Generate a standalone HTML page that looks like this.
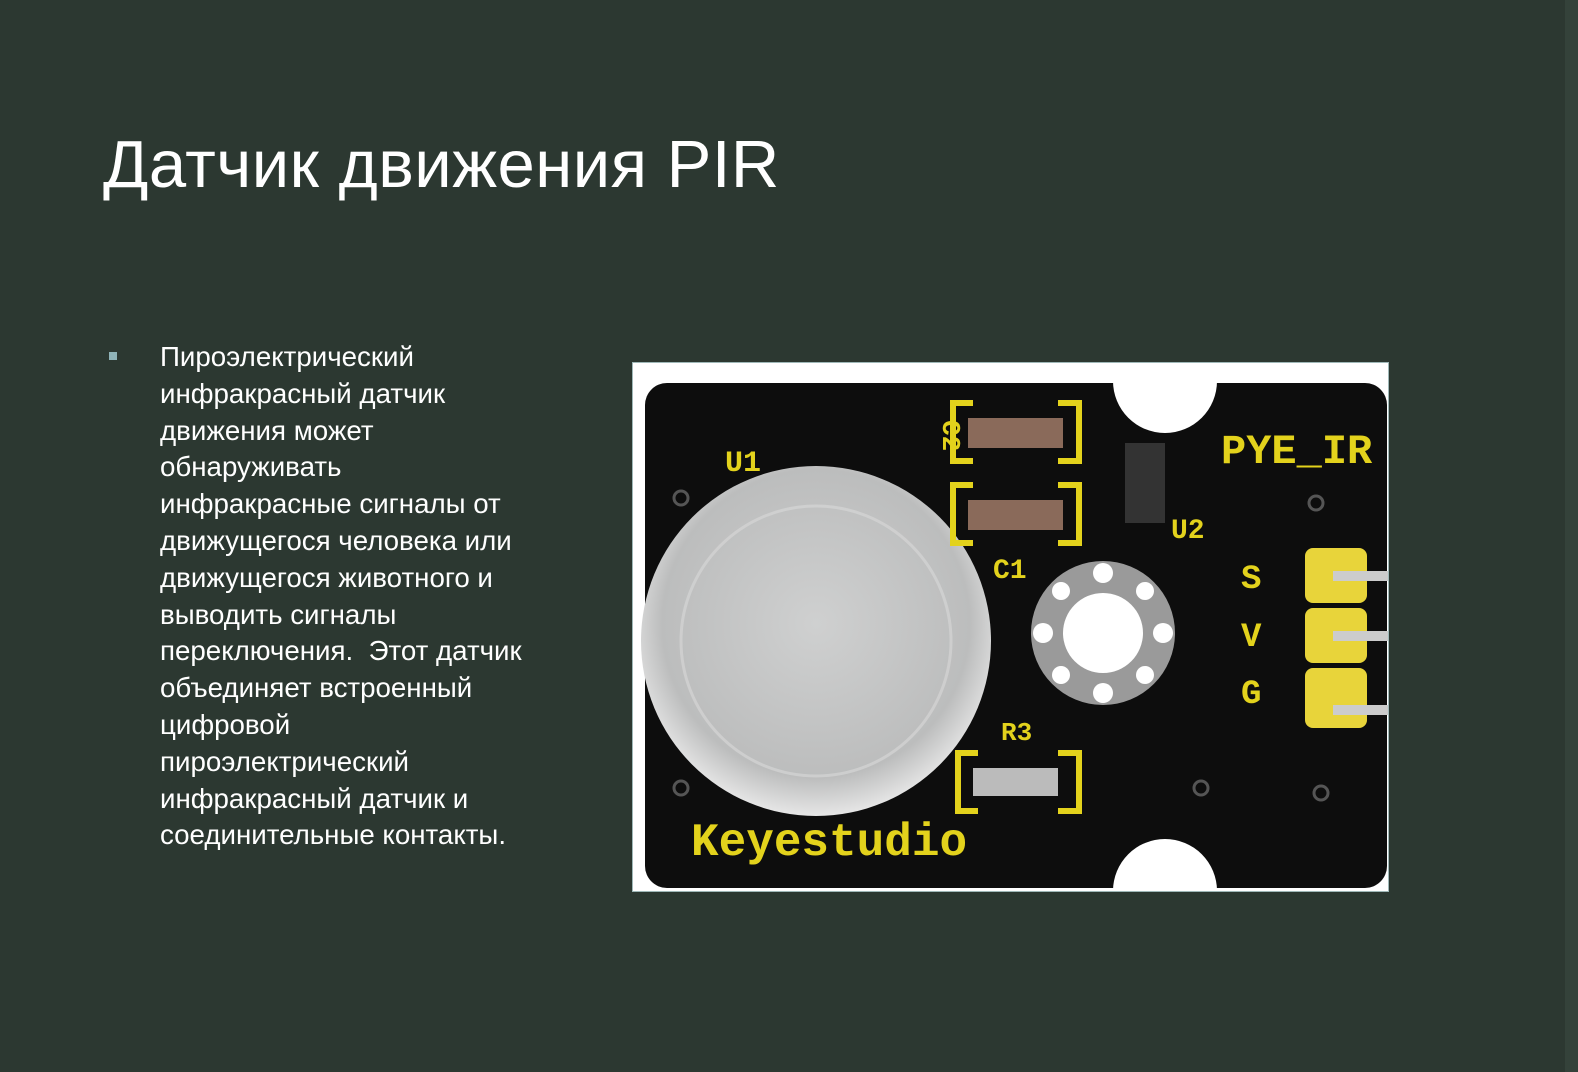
<!DOCTYPE html>
<html><head><meta charset="utf-8"><style>
html,body{margin:0;padding:0;}
body{width:1578px;height:1072px;background:#2c3831;position:relative;overflow:hidden;font-family:"Liberation Sans","Noto Sans CJK SC",sans-serif;}
#title{position:absolute;left:103px;top:126px;font-size:67px;color:#fff;margin:0;font-weight:normal;letter-spacing:0.5px;}
#bullet{position:absolute;left:109px;top:352px;width:8px;height:8px;background:#8fb3b8;}
#body{position:absolute;left:160px;top:339px;width:420px;font-size:27.7px;line-height:36.8px;color:#fff;white-space:nowrap;}
#pic{position:absolute;left:632px;top:362px;width:755px;height:528px;border:1px solid #9fb8b8;background:#fff;}
#edge{position:absolute;left:1565px;top:0;width:13px;height:1072px;background:#34423a;}
</style></head><body>
<div id="edge"></div>
<h1 id="title">Датчик движения PIR</h1>
<div id="bullet"></div>
<div id="body">Пироэлектрический<br>инфракрасный датчик<br>движения может<br>обнаруживать<br>инфракрасные сигналы от<br>движущегося человека или<br>движущегося животного и<br>выводить сигналы<br>переключения.&nbsp; Этот датчик<br>объединяет встроенный<br>цифровой<br>пироэлектрический<br>инфракрасный датчик и<br>соединительные контакты.</div>
<div id="pic">
<svg width="755" height="528" viewBox="0 0 755 528">
<defs><radialGradient id="dome" cx="50%" cy="45%" r="55%"><stop offset="0" stop-color="#cfd0d0"/><stop offset="0.8" stop-color="#bcbdbd"/><stop offset="1" stop-color="#e6e6e6"/></radialGradient></defs>
<rect x="12" y="20" width="742" height="505" rx="22" fill="#0d0d0d"/>
<circle cx="532" cy="18" r="52" fill="#fff"/>
<circle cx="532" cy="528" r="52" fill="#fff"/>
<circle cx="183" cy="278" r="175" fill="url(#dome)"/>
<circle cx="183" cy="278" r="135" fill="none" stroke="#d8d8d8" stroke-width="3" opacity="0.6"/>
<circle cx="470" cy="270" r="72" fill="#9a9a9a"/>
<circle cx="470" cy="270" r="40" fill="#fff"/>
<g fill="#fff"><circle cx="470" cy="210" r="10"/><circle cx="470" cy="330" r="10"/><circle cx="410" cy="270" r="10"/><circle cx="530" cy="270" r="10"/><circle cx="428" cy="228" r="9"/><circle cx="512" cy="228" r="9"/><circle cx="428" cy="312" r="9"/><circle cx="512" cy="312" r="9"/></g>
<g fill="none" stroke="#e3d21c" stroke-width="6">
<path d="M340 40 H320 V98 H340 M425 40 H446 V98 H425"/>
<path d="M340 122 H320 V180 H340 M425 122 H446 V180 H425"/>
<path d="M345 390 H325 V448 H345 M425 390 H446 V448 H425"/>
</g>
<rect x="335" y="55" width="95" height="30" fill="#8a6a5a"/><rect x="335" y="137" width="95" height="30" fill="#8a6a5a"/>
<rect x="340" y="405" width="85" height="28" fill="#bbb"/>
<rect x="492" y="80" width="40" height="80" fill="#333"/>
<g fill="#e3d21c" font-family="Liberation Mono, monospace" font-weight="bold">
<text x="92" y="108" font-size="30">U1</text>
<text x="360" y="215" font-size="28">C1</text>
<text x="538" y="175" font-size="28">U2</text>
<text x="368" y="377" font-size="26">R3</text>
<text x="588" y="100" font-size="42">PYE_IR</text>
<text x="608" y="225" font-size="34">S</text><text x="608" y="283" font-size="34">V</text><text x="608" y="340" font-size="34">G</text>
<text x="58" y="492" font-size="46">Keyestudio</text>
<text x="282" y="55" font-size="26" transform="rotate(90 295 70)">C2</text>
</g>
<g fill="#e8d43a">
<rect x="672" y="185" width="62" height="55" rx="8"/><rect x="672" y="245" width="62" height="55" rx="8"/><rect x="672" y="305" width="62" height="60" rx="8"/>
</g>
<g fill="#ccc"><rect x="700" y="208" width="55" height="10"/><rect x="700" y="268" width="55" height="10"/><rect x="700" y="342" width="55" height="10"/></g>
<g fill="none" stroke="#555" stroke-width="3"><circle cx="683" cy="140" r="7"/><circle cx="568" cy="425" r="7"/><circle cx="688" cy="430" r="7"/><circle cx="48" cy="135" r="7"/><circle cx="48" cy="425" r="7"/></g>
</svg>
</div>
</body></html>
